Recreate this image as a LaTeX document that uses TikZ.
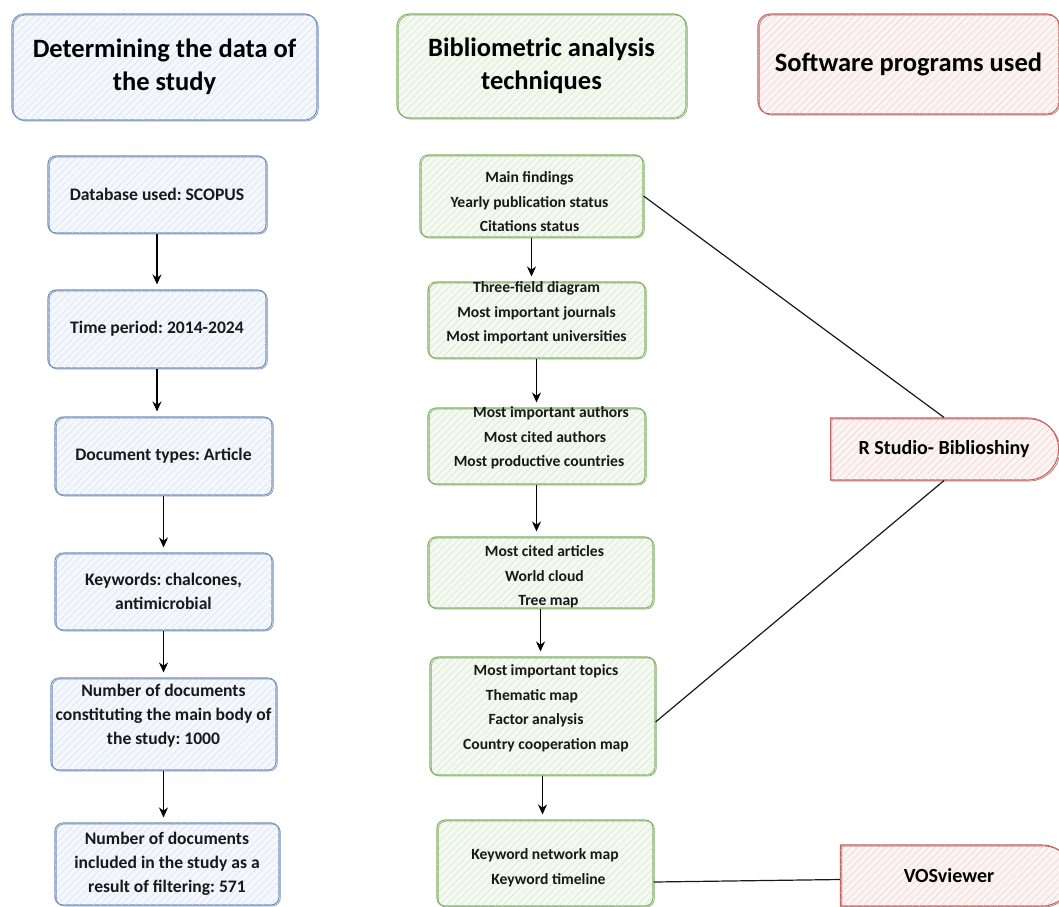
\documentclass[tikz,border=0pt]{standalone}
\usepackage{fontspec}
\setmainfont{Carlito}
\frenchspacing
\usetikzlibrary{patterns.meta,arrows.meta,shapes.misc}
\definecolor{bDraw}{HTML}{7490BA}
\definecolor{bFill}{HTML}{F4F7FB}
\definecolor{bHatch}{HTML}{D6E1EF}
\definecolor{gDraw}{HTML}{82B068}
\definecolor{gFill}{HTML}{F4F9F1}
\definecolor{gHatch}{HTML}{D5E6CA}
\definecolor{rDraw}{HTML}{C06462}
\definecolor{rFill}{HTML}{FCF3F3}
\definecolor{rHatch}{HTML}{EFD0D0}
\tikzset{
  base/.style={draw, line width=1.1pt, rounded corners=8pt, inner sep=0pt},
  sk/.style={postaction={draw=#1, line width=0.6pt, transform canvas={shift={(1.3pt,-1pt)}}}},
  bbox/.style={base, draw=bDraw, fill=bFill,
    postaction={pattern={Lines[angle=45,distance=5pt,line width=0.5pt]}, pattern color=bHatch}, sk=bDraw},
  gbox/.style={base, draw=gDraw, fill=gFill,
    postaction={pattern={Lines[angle=45,distance=5pt,line width=0.5pt]}, pattern color=gHatch}, sk=gDraw},
  rbox/.style={base, draw=rDraw, fill=rFill,
    postaction={pattern={Lines[angle=45,distance=5pt,line width=0.5pt]}, pattern color=rHatch}, sk=rDraw},
  rsoft/.style={draw=rDraw, line width=1.1pt, fill=rFill, inner sep=0pt,
    shape=rounded rectangle, rounded rectangle left arc=none,
    postaction={pattern={Lines[angle=45,distance=5pt,line width=0.5pt]}, pattern color=rHatch}, sk=rDraw,
    font=\bfseries\fontsize{20}{24}\selectfont, text=black},
  head/.style={font=\bfseries\fontsize{26.5}{33}\selectfont, align=center, text=black},
  txt/.style={font=\bfseries\fontsize{17.6}{24}\selectfont, align=center, text=black!90},
  mtxt/.style={font=\bfseries\fontsize{15.6}{24.5}\selectfont, align=center, text=black!90},
  arr/.style={-{Stealth[length=10pt,width=9pt]}, line width=1.3pt, shorten >=5pt},
  conn/.style={line width=1.2pt, black!90},
}
\begin{document}
\begin{tikzpicture}[x=1pt,y=-1pt]
\useasboundingbox (0,0) rectangle (1059,906);
\fill[white] (0,0) rectangle (1059,906);

% headers
\node[bbox, rounded corners=12pt, minimum width=305, minimum height=106, head] (hL) at (164.5,67)
  {Determining the data of\\the study};
\node[gbox, rounded corners=12pt, minimum width=289, minimum height=104, head] (hM) at (541.5,66)
  {Bibliometric analysis\\techniques};
\node[rbox, rounded corners=12pt, minimum width=301, minimum height=100, head] (hR) at (908.5,64)
  {Software programs used};

% left column
\node[bbox, minimum width=218, minimum height=77, txt] (l1) at (157,194.5) {Database used: SCOPUS};
\node[bbox, minimum width=218, minimum height=78, txt] (l2) at (157,329) {Time period: 2014-2024};
\node[bbox, minimum width=217, minimum height=78, txt] (l3) at (163.5,456) {Document types: Article};
\node[bbox, minimum width=217, minimum height=77, txt] (l4) at (163.5,591.5) {Keywords: chalcones,\\antimicrobial};
\node[bbox, minimum width=225, minimum height=92,
  label={[txt, yshift=8pt]center:{Number of documents\\constituting the main body of\\the study: 1000}}] (l5) at (163.5,724) {};
\node[bbox, minimum width=224, minimum height=82, txt] (l6) at (167,864)
  {Number of documents\\included in the study as a\\result of filtering: 571};

% middle column
\node[gbox, minimum width=223, minimum height=82,
  label={[mtxt, yshift=-6pt, xshift=-2pt]center:{Main findings\\Yearly publication status\\Citations status}}] (m1) at (531.5,196) {};
\node[gbox, minimum width=217, minimum height=76,
  label={[mtxt, yshift=7pt]center:{Three-field diagram\\Most important journals\\Most important universities}}] (m2) at (536.5,320) {};
\node[gbox, minimum width=217, minimum height=76,
  label={[mtxt, yshift=8pt, xshift=2.5pt]center:{\rule{24pt}{0pt}Most important authors\\\rule{12pt}{0pt}Most cited authors\\Most productive countries}}] (m3) at (536.5,446) {};
\node[gbox, minimum width=225, minimum height=71,
  label={[mtxt, yshift=-4.5pt, xshift=4pt]center:{Most cited articles\\World cloud\\\rule{8pt}{0pt}Tree map}}] (m4) at (540.5,572.5) {};
\node[gbox, minimum width=225, minimum height=118,
  label={[mtxt, yshift=8pt, xshift=3.5pt]center:{Most important topics\\Thematic map\rule{28pt}{0pt}\\Factor analysis\rule{20pt}{0pt}\\Country cooperation map}}] (m5) at (542.5,716) {};
\node[gbox, minimum width=216, minimum height=86,
  label={[mtxt, yshift=-4.5pt]center:{Keyword network map\\\rule{7pt}{0pt}Keyword timeline}}] (m6) at (545,863) {};

% right column
\node[rsoft, minimum width=228, minimum height=62] (r1) at (944,449) {R Studio- Biblioshiny};
\node[rsoft, minimum width=232, minimum height=61] (r2) at (956,875.5) {\hspace*{-14pt}VOSviewer};

% arrows
\foreach \a/\b in {l1/l2,l2/l3,l3/l4,l4/l5,l5/l6,m1/m2,m2/m3,m3/m4,m4/m5,m5/m6}
  \draw[arr] (\a.south) -- (\a.south |- \b.north);

% connectors
\draw[conn] (m1.east) -- (r1.north);
\draw[conn] ([yshift=-6pt]m5.east) -- (r1.south);
\draw[conn] ([yshift=-19pt]m6.east) -- ([yshift=-4pt]r2.west);
\end{tikzpicture}
\end{document}
